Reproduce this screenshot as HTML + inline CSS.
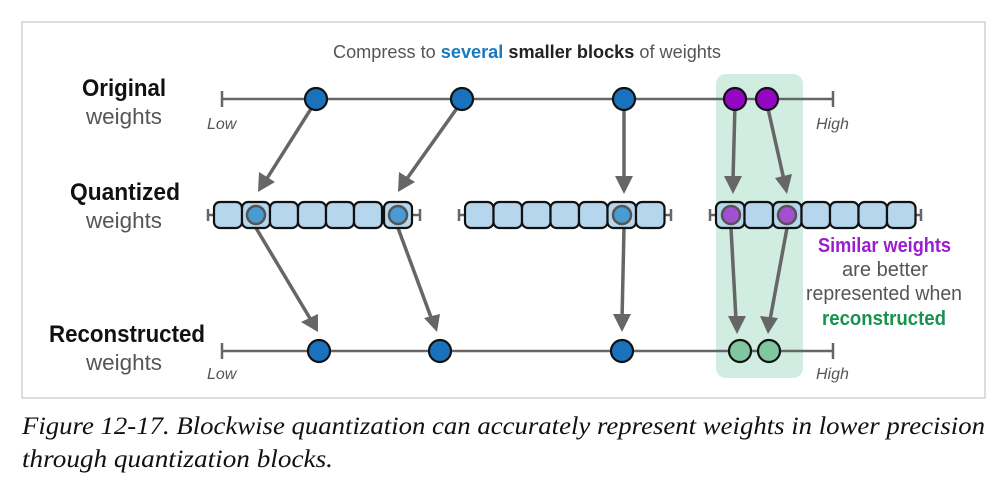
<!DOCTYPE html>
<html><head><style>body{margin:0;background:#fff}svg{display:block}</style></head><body>
<svg width="1004" height="504" xmlns="http://www.w3.org/2000/svg" font-family="Liberation Sans, sans-serif">
<rect x="22" y="22" width="963" height="376" fill="#fff" stroke="#bbb" stroke-width="1"/>
<rect x="716" y="74" width="87" height="304" rx="10" fill="#d1ece0"/>
<text x="333" y="58" font-size="18" fill="#555" textLength="388" lengthAdjust="spacingAndGlyphs">Compress to <tspan fill="#1a7abf" font-weight="bold">several</tspan> <tspan fill="#222" font-weight="bold">smaller blocks</tspan> of weights</text>
<g font-size="24">
<text x="82" y="96" font-weight="bold" fill="#111" textLength="84" lengthAdjust="spacingAndGlyphs">Original</text><text x="86" y="124" font-size="22" fill="#555" textLength="76" lengthAdjust="spacingAndGlyphs">weights</text>
<text x="70" y="200" font-weight="bold" fill="#111" textLength="110" lengthAdjust="spacingAndGlyphs">Quantized</text><text x="86" y="228" font-size="22" fill="#555" textLength="76" lengthAdjust="spacingAndGlyphs">weights</text>
<text x="49" y="342" font-weight="bold" fill="#111" textLength="156" lengthAdjust="spacingAndGlyphs">Reconstructed</text><text x="86" y="370" font-size="22" fill="#555" textLength="76" lengthAdjust="spacingAndGlyphs">weights</text>
</g>
<g font-style="italic" font-size="16" fill="#555"><text x="207" y="129">Low</text><text x="816" y="129">High</text><text x="207" y="379">Low</text><text x="816" y="379">High</text></g>
<g stroke="#666" stroke-width="2.5"><line x1="222" y1="99" x2="833" y2="99"/><line x1="222" y1="91" x2="222" y2="107"/><line x1="833" y1="91" x2="833" y2="107"/>
<line x1="222" y1="351" x2="833" y2="351"/><line x1="222" y1="343" x2="222" y2="359"/><line x1="833" y1="343" x2="833" y2="359"/></g>
<g stroke="#666" stroke-width="3.5" fill="none">
<line x1="314" y1="104" x2="266" y2="180"/><line x1="460" y1="104" x2="406" y2="180"/><line x1="624" y1="104" x2="624" y2="180"/><line x1="735" y1="104" x2="733" y2="180"/><line x1="767" y1="104" x2="784" y2="180"/>
<line x1="256" y1="228" x2="311" y2="320"/><line x1="398" y1="228" x2="432" y2="320"/><line x1="624" y1="228" x2="622" y2="320"/><line x1="731" y1="228" x2="736" y2="320"/><line x1="787" y1="228" x2="770" y2="320"/>
</g>
<g fill="#666">
<polygon points="258,192 259,172 275,182"/><polygon points="398,192 399,172 415,182"/><polygon points="624,194 615,176 633,176"/><polygon points="733,194 724,176 742,176"/><polygon points="787,194 775,178 792,174"/>
<polygon points="318,332 301,322 318,314"/><polygon points="437,332 424,318 440,314"/><polygon points="622,332 613,314 631,314"/><polygon points="737,334 728,316 746,316"/><polygon points="768,334 760,316 778,318"/>
</g>
<g stroke="#666" stroke-width="2.5"><line x1="208" y1="215" x2="215" y2="215"/><line x1="208" y1="209" x2="208" y2="221"/><line x1="413" y1="215" x2="420" y2="215"/><line x1="420" y1="209" x2="420" y2="221"/>
<line x1="459" y1="215" x2="466" y2="215"/><line x1="459" y1="209" x2="459" y2="221"/><line x1="664" y1="215" x2="671" y2="215"/><line x1="671" y1="209" x2="671" y2="221"/>
<line x1="710" y1="215" x2="717" y2="215"/><line x1="710" y1="209" x2="710" y2="221"/><line x1="914" y1="215" x2="921" y2="215"/><line x1="921" y1="209" x2="921" y2="221"/></g>
<g fill="#b5d6ec" stroke="#111" stroke-width="2.2">
<rect x="214" y="202" width="28" height="26" rx="6"/><rect x="242" y="202" width="28" height="26" rx="6"/><rect x="270" y="202" width="28" height="26" rx="6"/><rect x="298" y="202" width="28" height="26" rx="6"/><rect x="326" y="202" width="28" height="26" rx="6"/><rect x="354" y="202" width="28" height="26" rx="6"/><rect x="384" y="202" width="28" height="26" rx="6"/>
<rect x="465" y="202" width="28.5" height="26" rx="6"/><rect x="493.5" y="202" width="28.5" height="26" rx="6"/><rect x="522" y="202" width="28.5" height="26" rx="6"/><rect x="550.5" y="202" width="28.5" height="26" rx="6"/><rect x="579" y="202" width="28.5" height="26" rx="6"/><rect x="607.5" y="202" width="28.5" height="26" rx="6"/><rect x="636" y="202" width="28.5" height="26" rx="6"/>
<rect x="716" y="202" width="28.5" height="26" rx="6"/><rect x="744.5" y="202" width="28.5" height="26" rx="6"/><rect x="773" y="202" width="28.5" height="26" rx="6"/><rect x="801.5" y="202" width="28.5" height="26" rx="6"/><rect x="830" y="202" width="28.5" height="26" rx="6"/><rect x="858.5" y="202" width="28.5" height="26" rx="6"/><rect x="887" y="202" width="28.5" height="26" rx="6"/>
</g>
<g stroke="#555" stroke-width="2.5"><circle cx="256" cy="215" r="9" fill="#4a9ad3"/><circle cx="398" cy="215" r="9" fill="#4a9ad3"/><circle cx="622" cy="215" r="9" fill="#4a9ad3"/><circle cx="731" cy="215" r="9" fill="#a24fd0"/><circle cx="787" cy="215" r="9" fill="#a24fd0"/></g>
<g stroke="#111" stroke-width="2.2">
<circle cx="316" cy="99" r="11" fill="#1a72bd"/><circle cx="462" cy="99" r="11" fill="#1a72bd"/><circle cx="624" cy="99" r="11" fill="#1a72bd"/><circle cx="735" cy="99" r="11" fill="#9206c4"/><circle cx="767" cy="99" r="11" fill="#9206c4"/>
<circle cx="319" cy="351" r="11" fill="#1a72bd"/><circle cx="440" cy="351" r="11" fill="#1a72bd"/><circle cx="622" cy="351" r="11" fill="#1a72bd"/><circle cx="740" cy="351" r="11" fill="#80c7a0"/><circle cx="769" cy="351" r="11" fill="#80c7a0"/>
</g>
<g font-size="20">
<text x="818" y="252" fill="#9b1dd1" font-weight="bold" textLength="133" lengthAdjust="spacingAndGlyphs">Similar weights</text>
<text x="842" y="276" fill="#555" textLength="86" lengthAdjust="spacingAndGlyphs">are better</text>
<text x="806" y="300" fill="#555" textLength="156" lengthAdjust="spacingAndGlyphs">represented when</text>
<text x="822" y="325" fill="#17934e" font-weight="bold" textLength="124" lengthAdjust="spacingAndGlyphs">reconstructed</text>
</g>
<g font-family="Liberation Serif, serif" font-style="italic" font-size="25" fill="#111">
<text x="22" y="434" textLength="963" lengthAdjust="spacingAndGlyphs">Figure 12-17. Blockwise quantization can accurately represent weights in lower precision</text>
<text x="22" y="467" textLength="311" lengthAdjust="spacingAndGlyphs">through quantization blocks.</text>
</g>
</svg>
</body></html>
